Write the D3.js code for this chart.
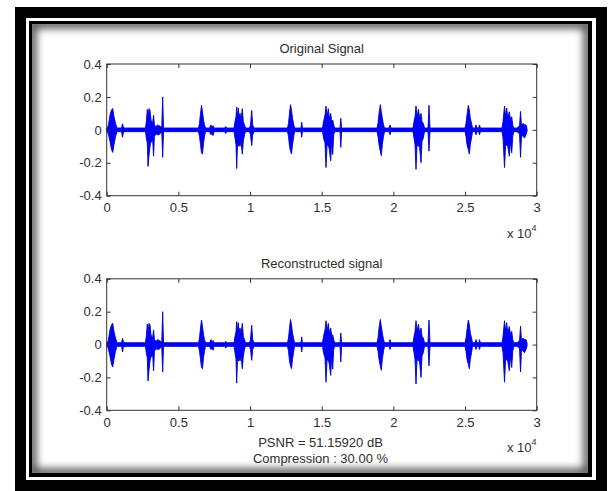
<!DOCTYPE html>
<html lang="en">
<head>
<meta charset="UTF-8">
<title>Original vs Reconstructed Signal</title>
<script src="https://d3js.org/d3.v7.min.js"></script>
<style>
  body { margin: 0; padding: 0; background: #fff; }
  svg { display: block; }
  text { font-family: "Liberation Sans", Arial, sans-serif; font-size: 13px; fill: #2e2e2e; }
  .axis path { display: none; }
  .axis line { stroke: #333; }
  .box { fill: none; stroke: #333; stroke-width: 1; }
  .sig { fill: #0000ff; stroke: #0000cc; stroke-width: 0.9; stroke-linejoin: round; }
</style>
</head>
<body>
<div id="chart"></div>
<script>
const width = 611, height = 491;

// x axis is in samples, labelled in units of 10^4
const xTickValues = [0, 5000, 10000, 15000, 20000, 25000, 30000];
const xTickLabels = ["0", "0.5", "1", "1.5", "2", "2.5", "3"];
const yTickValues = [-0.4, -0.2, 0, 0.2, 0.4];
const yTickLabels = ["-0.4", "-0.2", "0", "0.2", "0.4"];

// signal envelope: sample index, upper and lower extent
const sampleIdx = [
  0, 56, 126, 230, 335, 419, 509, 614, 719,
  1033, 1054, 1102, 1158, 1207,
  2707, 2763, 2833, 2881, 2951, 3021, 3091, 3137, 3200, 3270, 3330, 3440, 3560, 3650, 3760, 3840, 3907, 3965,
  6405, 6475, 6545, 6614, 6684, 6754, 6824, 6893,
  7172, 7277, 7330, 7420, 7490, 8230, 8303, 8370,
  8882, 8952, 9021, 9070, 9126, 9182, 9245, 9300, 9370, 9461, 9531, 9614, 9684,
  9963, 10033, 10117, 10187, 10277,
  12615, 12684, 12754, 12824, 12894, 12963, 13033, 13103,
  13556, 13605, 13654,
  15057, 15127, 15231, 15301, 15370, 15461, 15531, 15628, 15698, 15768, 15838, 15908,
  16280, 16333, 16390,
  18859, 18929, 18999, 19089, 19159, 19229, 19312, 19382,
  19700, 19766, 19830,
  21371, 21441, 21511, 21580, 21650, 21755, 21825, 21929, 21999, 22089, 22173,
  22417, 22487, 22557,
  24999, 25068, 25138, 25229, 25299, 25369, 25452, 25522,
  25700, 25766, 25830, 25950, 26010, 26070,
  27581, 27650, 27755, 27825, 27909, 27979, 28090, 28174, 28258, 28328, 28398,
  28628, 28732, 28800, 28872, 28942, 29047, 29151, 29256, 29326
];
const upper = [
  0.011, 0.011, 0.03, 0.09, 0.12, 0.13, 0.08, 0.04, 0.011,
  0.011, 0.02, 0.037, 0.02, 0.011,
  0.011, 0.05, 0.124, 0.07, 0.129, 0.118, 0.06, 0.047, 0.04, 0.088, 0.03, 0.02, 0.03, 0.025, 0.02, 0.011, 0.2, 0.011,
  0.011, 0.04, 0.10, 0.149, 0.11, 0.06, 0.03, 0.011,
  0.011, 0.03, 0.015, 0.025, 0.011, 0.011, 0.02, 0.011,
  0.011, 0.05, 0.08, 0.139, 0.08, 0.133, 0.07, 0.10, 0.06, 0.129, 0.05, 0.03, 0.011,
  0.011, 0.03, 0.118, 0.03, 0.011,
  0.011, 0.04, 0.10, 0.153, 0.12, 0.07, 0.04, 0.011,
  0.011, 0.047, 0.011,
  0.011, 0.05, 0.09, 0.145, 0.08, 0.129, 0.07, 0.10, 0.05, 0.06, 0.03, 0.011,
  0.011, 0.07, 0.011,
  0.011, 0.04, 0.10, 0.153, 0.11, 0.07, 0.03, 0.011,
  0.011, 0.03, 0.011,
  0.011, 0.05, 0.08, 0.145, 0.08, 0.125, 0.07, 0.10, 0.05, 0.04, 0.011,
  0.011, 0.149, 0.011,
  0.011, 0.04, 0.09, 0.149, 0.12, 0.07, 0.04, 0.011,
  0.011, 0.03, 0.011, 0.011, 0.03, 0.011,
  0.011, 0.05, 0.145, 0.08, 0.133, 0.07, 0.11, 0.06, 0.08, 0.03, 0.011,
  0.011, 0.02, 0.02, 0.112, 0.02, 0.04, 0.03, 0.03, 0.01
];
const lower = [
  -0.011, -0.011, -0.03, -0.07, -0.12, -0.137, -0.09, -0.04, -0.011,
  -0.011, -0.02, -0.045, -0.02, -0.011,
  -0.011, -0.05, -0.08, -0.222, -0.157, -0.10, -0.07, -0.075, -0.05, -0.16, -0.04, -0.025, -0.03, -0.03, -0.02, -0.011, -0.167, -0.011,
  -0.011, -0.04, -0.09, -0.14, -0.147, -0.08, -0.04, -0.011,
  -0.011, -0.03, -0.02, -0.035, -0.011, -0.011, -0.022, -0.011,
  -0.011, -0.05, -0.09, -0.235, -0.09, -0.10, -0.08, -0.10, -0.07, -0.147, -0.07, -0.03, -0.011,
  -0.011, -0.03, -0.096, -0.03, -0.011,
  -0.011, -0.04, -0.10, -0.13, -0.147, -0.09, -0.05, -0.011,
  -0.011, -0.045, -0.011,
  -0.011, -0.05, -0.08, -0.229, -0.10, -0.09, -0.12, -0.188, -0.07, -0.15, -0.03, -0.011,
  -0.011, -0.106, -0.011,
  -0.011, -0.04, -0.09, -0.13, -0.157, -0.09, -0.04, -0.011,
  -0.011, -0.03, -0.011,
  -0.011, -0.05, -0.09, -0.24, -0.09, -0.10, -0.10, -0.20, -0.07, -0.05, -0.011,
  -0.011, -0.13, -0.011,
  -0.011, -0.04, -0.09, -0.12, -0.147, -0.09, -0.05, -0.011,
  -0.011, -0.03, -0.011, -0.011, -0.03, -0.011,
  -0.011, -0.05, -0.229, -0.10, -0.09, -0.10, -0.16, -0.07, -0.14, -0.04, -0.011,
  -0.011, -0.02, -0.02, -0.167, -0.03, -0.04, -0.05, -0.03, -0.01
];

// the reconstruction is visually identical to the original at this scale
const reconUpper = upper.slice();
const reconLower = lower.slice();

const svg = d3.select("#chart").append("svg")
  .attr("width", width)
  .attr("height", height);

// picture frame
const defs = svg.append("defs");
defs.append("clipPath").attr("id", "panelClip")
  .append("rect").attr("x", 32).attr("y", 24).attr("width", 556).attr("height", 449);
defs.append("filter").attr("id", "soft")
  .attr("x", "-10%").attr("y", "-10%").attr("width", "120%").attr("height", "120%")
  .append("feGaussianBlur").attr("stdDeviation", 4);

svg.append("rect").attr("x", 15).attr("y", 7).attr("width", 592).attr("height", 484).attr("fill", "#000");
svg.append("rect").attr("x", 26).attr("y", 18).attr("width", 570).attr("height", 462).attr("fill", "#fff");
svg.append("rect").attr("x", 29).attr("y", 21).attr("width", 563).attr("height", 456).attr("fill", "#000");
svg.append("rect").attr("x", 32).attr("y", 24).attr("width", 556).attr("height", 449).attr("fill", "#fff");
svg.append("g").attr("clip-path", "url(#panelClip)")
  .append("rect")
  .attr("x", 32).attr("y", 24).attr("width", 556).attr("height", 449)
  .attr("fill", "none").attr("stroke", "#000").attr("stroke-width", 8)
  .attr("opacity", 0.75)
  .attr("filter", "url(#soft)");

const x = d3.scaleLinear().domain([0, 30000]).range([106.7, 536.7]);

function drawPanel(top, bottom, title, hi, lo, notes) {
  const y = d3.scaleLinear().domain([-0.4, 0.4]).range([bottom, top]);
  const g = svg.append("g");

  const area = d3.area()
    .x(i => x(sampleIdx[i]))
    .y0(i => y(lo[i]))
    .y1(i => y(hi[i]));
  g.append("path").attr("class", "sig").attr("d", area(d3.range(sampleIdx.length)));

  g.append("g").attr("class", "axis")
    .attr("transform", `translate(0,${bottom})`)
    .call(d3.axisBottom(x).tickValues(xTickValues).tickSizeInner(-4).tickSizeOuter(0)
      .tickPadding(7).tickFormat((d, i) => xTickLabels[i]))
    .selectAll("text").attr("font-size", null).attr("fill", null);
  g.append("g").attr("class", "axis")
    .attr("transform", `translate(0,${top})`)
    .call(d3.axisTop(x).tickValues(xTickValues).tickSizeInner(-4).tickSizeOuter(0).tickFormat(""));
  g.append("g").attr("class", "axis")
    .attr("transform", `translate(${x.range()[0]},0)`)
    .call(d3.axisLeft(y).tickValues(yTickValues).tickSizeInner(-4).tickSizeOuter(0)
      .tickPadding(5).tickFormat((d, i) => yTickLabels[i]))
    .selectAll("text").attr("font-size", null).attr("fill", null);
  g.append("g").attr("class", "axis")
    .attr("transform", `translate(${x.range()[1]},0)`)
    .call(d3.axisRight(y).tickValues(yTickValues).tickSizeInner(-4).tickSizeOuter(0).tickFormat(""));
  g.selectAll(".axis").attr("font-family", null).attr("font-size", null);

  g.append("rect").attr("class", "box")
    .attr("x", x.range()[0]).attr("y", top)
    .attr("width", x.range()[1] - x.range()[0]).attr("height", bottom - top);

  g.append("text").attr("x", 321.7).attr("y", top - 11.3)
    .attr("text-anchor", "middle").text(title);

  const mult = g.append("text").attr("x", 536.5).attr("y", bottom + 42)
    .attr("text-anchor", "end");
  mult.append("tspan").text("x 10");
  mult.append("tspan").attr("dy", -7).attr("font-size", "9px").text("4");

  notes.forEach((line, i) => {
    g.append("text").attr("x", 320.5).attr("y", bottom + 36.7 + i * 16.3)
      .attr("text-anchor", "middle").text(line);
  });
}

drawPanel(64, 195.7, "Original Signal", upper, lower, []);
drawPanel(278.8, 410.3, "Reconstructed signal", reconUpper, reconLower,
  ["PSNR = 51.15920 dB", "Compression : 30.00 %"]);
</script>
</body>
</html>
